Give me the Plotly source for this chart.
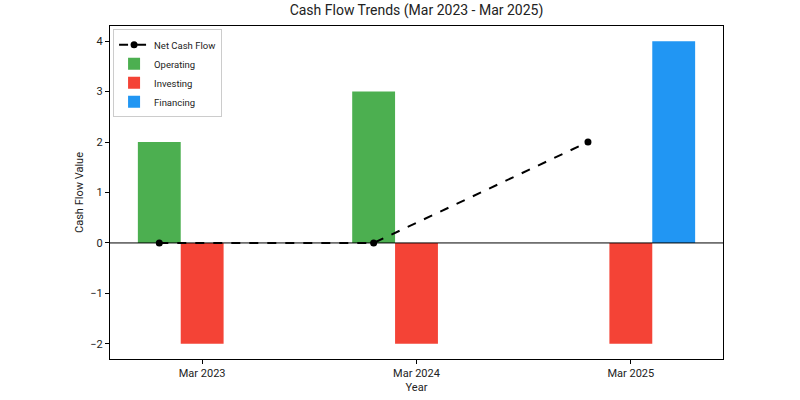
import numpy as np
import plotly.graph_objects as go

years = ["Mar 2023", "Mar 2024", "Mar 2025"]
operating = [2, 3, 0]
investing = [-2, -2, -2]
financing = [0, 0, 4]
net_cash_flow = [0, 0, 2]

idx = np.arange(len(years))
w = 0.2
FONT = "Roboto, Open Sans, sans-serif"

fig = go.Figure()
fig.add_trace(go.Scatter(x=idx - w, y=net_cash_flow, mode="lines+markers", name="Net Cash Flow",
                         line=dict(color="black", width=2, dash="dash"),
                         marker=dict(color="black", size=7)))
fig.add_trace(go.Bar(x=idx - w, y=operating, width=w, name="Operating", marker_color="#4CAF50", marker_line_width=0))
fig.add_trace(go.Bar(x=idx, y=investing, width=w, name="Investing", marker_color="#F44336", marker_line_width=0))
fig.add_trace(go.Bar(x=idx + w, y=financing, width=w, name="Financing", marker_color="#2196F3", marker_line_width=0))

fig.add_shape(type="line", xref="paper", x0=0, x1=1, yref="y", y0=0, y1=0,
              line=dict(color="black", width=1), layer="above")

fig.update_layout(
    width=800, height=400,
    margin=dict(l=110, r=77, t=26, b=41, autoexpand=False),
    paper_bgcolor="white", plot_bgcolor="white",
    font=dict(family=FONT, size=11, color="#222"),
    title=dict(text="Cash Flow Trends (Mar 2023 - Mar 2025)", x=0.5, xref="paper", xanchor="center",
               y=1, yref="container", yanchor="top", pad=dict(t=5),
               font=dict(size=14, family=FONT, color="#222")),
    barmode="overlay",
    showlegend=True,
    legend=dict(x=0.005, y=0.99, xanchor="left", yanchor="top", bgcolor="rgba(255,255,255,0.8)",
                bordercolor="#ccc", borderwidth=1, font=dict(size=9.5), tracegroupgap=0),
    xaxis=dict(range=[-0.43, 2.43], tickmode="array", tickvals=idx, ticktext=years,
               showgrid=False, zeroline=False, showline=True, linecolor="black", linewidth=1, mirror=True,
               ticks="outside", ticklen=4, tickcolor="black", automargin=False,
               title=dict(text="Year", font=dict(size=11), standoff=4)),
    yaxis=dict(range=[-2.3, 4.3], tickmode="array", tickvals=[-2, -1, 0, 1, 2, 3, 4],
               ticktext=["\u22122", "\u22121", "0", "1", "2", "3", "4"],
               showgrid=False, zeroline=False, showline=True, linecolor="black", linewidth=1, mirror=True,
               ticks="outside", ticklen=4, tickcolor="black", automargin=False,
               title=dict(text="Cash Flow Value", font=dict(size=11), standoff=4)),
)

fig.write_html("out.html")
